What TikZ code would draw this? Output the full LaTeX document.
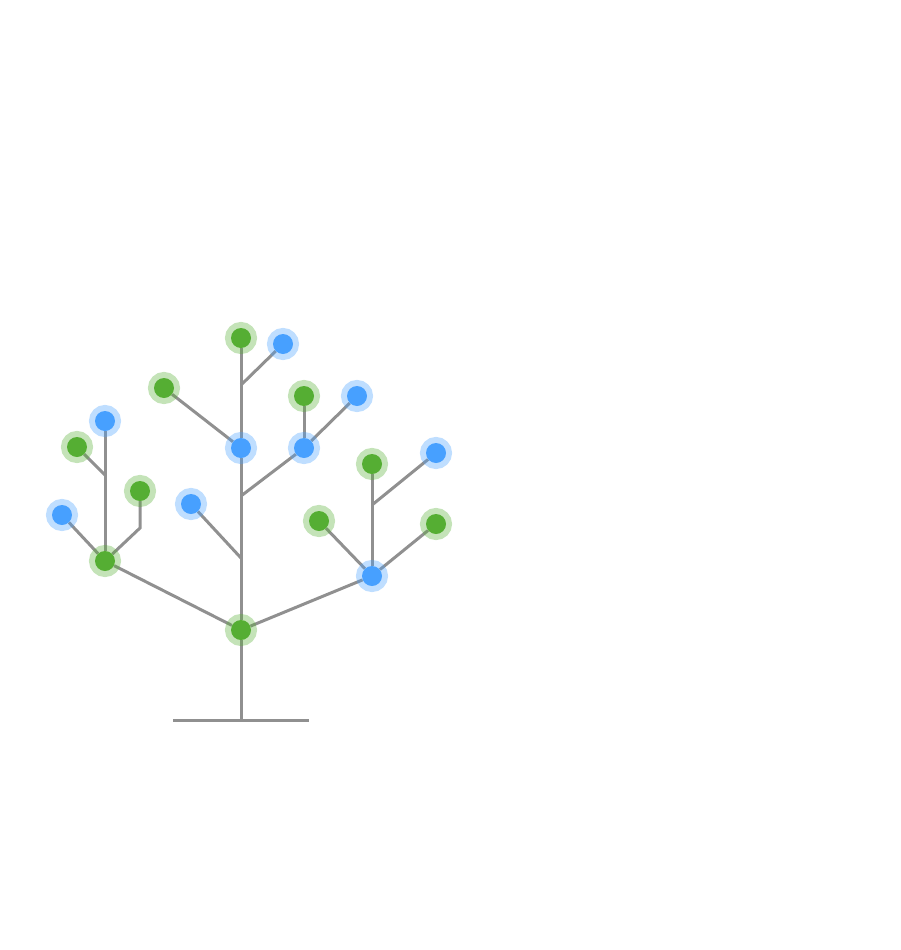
\documentclass[tikz,border=0pt]{standalone}
\usepackage{xcolor}
\usetikzlibrary{backgrounds}
\definecolor{leafgreen}{HTML}{55AE33}
\definecolor{leafblue}{HTML}{47A0FF}
\definecolor{stemgray}{HTML}{909090}

\begin{document}
\begin{tikzpicture}[
  x=1pt, y=-1pt,
  dot/.style={circle, inner sep=0pt, minimum size=20pt},
  gdot/.style={dot, fill=leafgreen, preaction={draw=leafgreen, draw opacity=0.35, line width=12pt}},
  bdot/.style={dot, fill=leafblue, preaction={draw=leafblue, draw opacity=0.35, line width=12pt}},
  stem/.style={draw=stemgray, line width=3pt},
]
\useasboundingbox (0,0) rectangle (900,950);
% trunk
\node[gdot] (root) at (241,630) {};
\node[bdot] (mid) at (241,448) {};
\node[gdot] (top) at (241,338) {};
\coordinate (base) at (241,720);
\coordinate (gndL) at (173,720);
\coordinate (gndR) at (309,720);
\coordinate (j1) at (241,558);
\coordinate (j2) at (241,496);
\coordinate (j3) at (241,385);
\node[bdot] (t1) at (191,504) {};
\node[bdot] (t2) at (304,448) {};
\node[gdot] (t3) at (164,388) {};
\node[bdot] (t4) at (283,344) {};
\node[gdot] (t2a) at (304,396) {};
\node[bdot] (t2b) at (357,396) {};
% left branch
\node[gdot] (lft) at (105,561) {};
\node[bdot] (l1) at (105,421) {};
\coordinate (jl1) at (105,475);
\node[gdot] (l2) at (77,447) {};
\node[bdot] (l3) at (62,515) {};
\coordinate (jl2) at (140,528);
\node[gdot] (l4) at (140,491) {};
% right branch
\node[bdot] (rgt) at (372,576) {};
\node[gdot] (r1) at (319,521) {};
\node[gdot] (r2) at (436,524) {};
\node[gdot] (r3) at (372,464) {};
\coordinate (jr1) at (372,505);
\node[bdot] (r4) at (436,453) {};
\begin{scope}[on background layer]
\draw[stem] (gndL) -- (gndR);
\draw[stem] (base) -- (root);
\draw[stem] (root) -- (j1) -- (j2) -- (mid) -- (j3) -- (top);
\draw[stem] (j1) -- (t1);
\draw[stem] (j2) -- (t2);
\draw[stem] (mid) -- (t3);
\draw[stem] (j3) -- (t4);
\draw[stem] (t2) -- (t2a);
\draw[stem] (t2) -- (t2b);
\draw[stem] (root) -- (lft);
\draw[stem] (lft) -- (jl1) -- (l1);
\draw[stem] (jl1) -- (l2);
\draw[stem] (lft) -- (l3);
\draw[stem] (lft) -- (jl2) -- (l4);
\draw[stem] (root) -- (rgt);
\draw[stem] (rgt) -- (r1);
\draw[stem] (rgt) -- (r2);
\draw[stem] (rgt) -- (jr1) -- (r3);
\draw[stem] (jr1) -- (r4);
\end{scope}
\end{tikzpicture}
\end{document}
